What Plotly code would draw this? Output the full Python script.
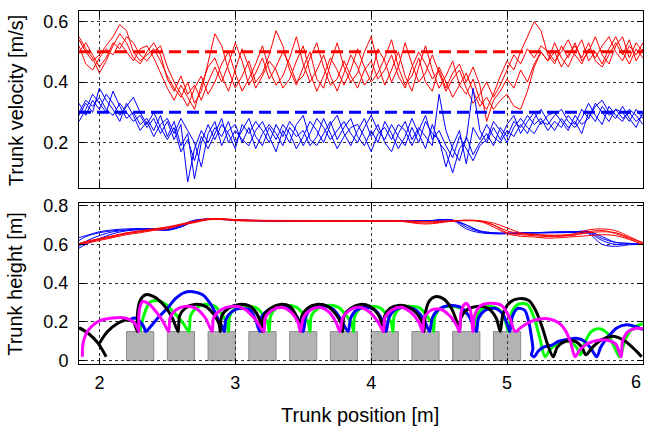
import plotly.graph_objects as go

# ---------------- data ----------------
vel_x = [1.85, 1.90, 1.95, 2.00, 2.05, 2.10, 2.15, 2.20, 2.25, 2.30,
         2.35, 2.40, 2.45, 2.50, 2.55, 2.60, 2.65, 2.70, 2.75, 2.80,
         2.85, 2.90, 2.95, 3.00, 3.05, 3.10, 3.15, 3.20, 3.25, 3.30,
         3.35, 3.40, 3.45, 3.50, 3.55, 3.60, 3.65, 3.70, 3.75, 3.80,
         3.85, 3.90, 3.95, 4.00, 4.05, 4.10, 4.15, 4.20, 4.25, 4.30,
         4.35, 4.40, 4.45, 4.50, 4.55, 4.60, 4.65, 4.70, 4.75, 4.80,
         4.85, 4.90, 4.95, 5.00, 5.05, 5.10, 5.15, 5.20, 5.25, 5.30,
         5.35, 5.40, 5.45, 5.50, 5.55, 5.60, 5.65, 5.70, 5.75, 5.80,
         5.85, 5.90, 5.95, 6.00]

vel_red_1 = [0.54, 0.50, 0.47, 0.49, 0.52, 0.55, 0.59, 0.57, 0.50, 0.47,
             0.49, 0.51, 0.47, 0.42, 0.38, 0.35, 0.40, 0.33, 0.37, 0.46,
             0.56, 0.52, 0.44, 0.38, 0.42, 0.47, 0.40, 0.43, 0.49, 0.57,
             0.52, 0.44, 0.39, 0.45, 0.50, 0.41, 0.38, 0.46, 0.53, 0.45,
             0.40, 0.43, 0.50, 0.55, 0.46, 0.39, 0.44, 0.50, 0.42, 0.37,
             0.45, 0.52, 0.44, 0.38, 0.42, 0.47, 0.39, 0.36, 0.41, 0.34,
             0.31, 0.36, 0.42, 0.47, 0.44, 0.50, 0.55, 0.60, 0.57, 0.49,
             0.46, 0.52, 0.48, 0.53, 0.47, 0.50, 0.55, 0.49, 0.46, 0.52,
             0.55, 0.48, 0.53, 0.50]
vel_red_2 = [0.50, 0.53, 0.49, 0.45, 0.48, 0.53, 0.51, 0.55, 0.53, 0.49,
             0.47, 0.50, 0.52, 0.45, 0.40, 0.36, 0.32, 0.38, 0.42, 0.36,
             0.40, 0.46, 0.50, 0.43, 0.37, 0.41, 0.46, 0.52, 0.44, 0.39,
             0.42, 0.48, 0.55, 0.46, 0.40, 0.44, 0.49, 0.42, 0.37, 0.43,
             0.49, 0.45, 0.39, 0.42, 0.51, 0.47, 0.40, 0.45, 0.53, 0.46,
             0.40, 0.43, 0.49, 0.43, 0.37, 0.41, 0.44, 0.38, 0.33, 0.36,
             0.40, 0.35, 0.39, 0.44, 0.49, 0.46, 0.51, 0.48, 0.52, 0.50,
             0.47, 0.50, 0.54, 0.49, 0.46, 0.51, 0.48, 0.52, 0.55, 0.50,
             0.47, 0.52, 0.49, 0.53]
vel_red_3 = [0.52, 0.46, 0.44, 0.48, 0.51, 0.49, 0.53, 0.50, 0.47, 0.51,
             0.52, 0.48, 0.43, 0.38, 0.34, 0.39, 0.35, 0.31, 0.39, 0.45,
             0.48, 0.42, 0.37, 0.44, 0.51, 0.45, 0.38, 0.42, 0.47, 0.44,
             0.38, 0.41, 0.47, 0.52, 0.43, 0.37, 0.42, 0.48, 0.44, 0.39,
             0.44, 0.51, 0.45, 0.40, 0.43, 0.48, 0.54, 0.45, 0.39, 0.42,
             0.48, 0.40, 0.37, 0.45, 0.40, 0.35, 0.39, 0.43, 0.37, 0.32,
             0.35, 0.31, 0.34, 0.36, 0.32, 0.31, 0.37, 0.45, 0.50, 0.47,
             0.53, 0.48, 0.45, 0.50, 0.54, 0.47, 0.50, 0.46, 0.51, 0.55,
             0.50, 0.46, 0.51, 0.48]
vel_red_4 = [0.55, 0.51, 0.48, 0.43, 0.47, 0.52, 0.56, 0.53, 0.48, 0.46,
             0.50, 0.53, 0.49, 0.41, 0.37, 0.42, 0.36, 0.39, 0.34, 0.40,
             0.45, 0.40, 0.46, 0.53, 0.47, 0.39, 0.43, 0.48, 0.41, 0.45,
             0.50, 0.46, 0.40, 0.42, 0.48, 0.53, 0.45, 0.39, 0.41, 0.47,
             0.42, 0.38, 0.44, 0.47, 0.41, 0.44, 0.49, 0.42, 0.38, 0.45,
             0.50, 0.46, 0.41, 0.44, 0.38, 0.43, 0.46, 0.40, 0.45, 0.39,
             0.27, 0.34, 0.37, 0.41, 0.38, 0.44, 0.40, 0.46, 0.50, 0.47,
             0.50, 0.45, 0.49, 0.52, 0.48, 0.53, 0.47, 0.45, 0.49, 0.53,
             0.49, 0.54, 0.47, 0.51]

vel_blue_1 = [0.30, 0.34, 0.32, 0.35, 0.31, 0.29, 0.33, 0.30, 0.27, 0.29,
              0.25, 0.28, 0.23, 0.27, 0.21, 0.26, 0.07, 0.18, 0.24, 0.20,
              0.25, 0.22, 0.27, 0.20, 0.24, 0.28, 0.22, 0.19, 0.25, 0.21,
              0.26, 0.23, 0.18, 0.22, 0.27, 0.24, 0.20, 0.26, 0.29, 0.23,
              0.19, 0.24, 0.28, 0.22, 0.26, 0.20, 0.17, 0.23, 0.27, 0.21,
              0.25, 0.22, 0.19, 0.36, 0.24, 0.18, 0.14, 0.22, 0.16, 0.20,
              0.23, 0.19, 0.25, 0.22, 0.27, 0.25, 0.29, 0.26, 0.28, 0.24,
              0.27, 0.25, 0.29, 0.26, 0.31, 0.28, 0.33, 0.30, 0.27, 0.31,
              0.28, 0.30, 0.27, 0.29]
vel_blue_2 = [0.27, 0.31, 0.36, 0.33, 0.30, 0.37, 0.32, 0.28, 0.30, 0.26,
              0.28, 0.24, 0.29, 0.22, 0.27, 0.19, 0.23, 0.08, 0.20, 0.26,
              0.21, 0.26, 0.23, 0.18, 0.26, 0.23, 0.27, 0.24, 0.20, 0.26,
              0.22, 0.27, 0.24, 0.19, 0.23, 0.28, 0.25, 0.21, 0.24, 0.27,
              0.23, 0.20, 0.25, 0.29, 0.24, 0.21, 0.26, 0.22, 0.19, 0.25,
              0.20, 0.27, 0.23, 0.21, 0.12, 0.19, 0.24, 0.13, 0.25, 0.21,
              0.26, 0.22, 0.20, 0.24, 0.22, 0.26, 0.23, 0.28, 0.31, 0.27,
              0.24, 0.28, 0.25, 0.27, 0.23, 0.30, 0.27, 0.32, 0.29, 0.31,
              0.30, 0.27, 0.31, 0.28]
vel_blue_3 = [0.33, 0.29, 0.34, 0.31, 0.36, 0.33, 0.29, 0.32, 0.35, 0.30,
              0.26, 0.30, 0.25, 0.21, 0.25, 0.17, 0.21, 0.14, 0.22, 0.18,
              0.23, 0.28, 0.20, 0.24, 0.21, 0.19, 0.24, 0.27, 0.22, 0.17,
              0.24, 0.20, 0.26, 0.29, 0.21, 0.19, 0.23, 0.27, 0.21, 0.25,
              0.28, 0.22, 0.19, 0.24, 0.20, 0.27, 0.23, 0.18, 0.22, 0.28,
              0.23, 0.18, 0.26, 0.20, 0.17, 0.10, 0.18, 0.21, 0.38, 0.24,
              0.20, 0.25, 0.21, 0.26, 0.29, 0.23, 0.27, 0.30, 0.26, 0.29,
              0.30, 0.27, 0.24, 0.29, 0.26, 0.28, 0.32, 0.34, 0.30, 0.28,
              0.32, 0.28, 0.25, 0.30]
vel_blue_4 = [0.29, 0.33, 0.30, 0.38, 0.34, 0.31, 0.27, 0.33, 0.29, 0.24,
              0.27, 0.22, 0.26, 0.28, 0.23, 0.28, 0.24, 0.20, 0.12, 0.23,
              0.27, 0.19, 0.24, 0.26, 0.20, 0.25, 0.18, 0.23, 0.26, 0.23,
              0.19, 0.25, 0.22, 0.24, 0.19, 0.22, 0.28, 0.23, 0.18, 0.22,
              0.25, 0.26, 0.22, 0.17, 0.23, 0.25, 0.21, 0.26, 0.24, 0.19,
              0.24, 0.29, 0.21, 0.24, 0.19, 0.15, 0.22, 0.18, 0.14, 0.19,
              0.21, 0.27, 0.24, 0.20, 0.25, 0.28, 0.25, 0.23, 0.27, 0.26,
              0.29, 0.31, 0.27, 0.25, 0.28, 0.33, 0.29, 0.26, 0.32, 0.29,
              0.27, 0.31, 0.29, 0.26]

target_vel_red = 0.5
target_vel_blue = 0.3

height_x = [1.85, 1.90, 2.00, 2.10, 2.20, 2.30, 2.40, 2.50, 2.60, 2.70,
            2.80, 2.90, 3.00, 3.20, 3.40, 3.60, 3.80, 4.00, 4.20, 4.40,
            4.60, 4.70, 4.80, 4.90, 5.00, 5.10, 5.20, 5.30, 5.40, 5.50,
            5.60, 5.70, 5.80, 5.90, 6.00]
height_red_1 = [0.600, 0.610, 0.625, 0.640, 0.655, 0.665, 0.675, 0.685, 0.700, 0.715,
                0.730, 0.730, 0.725, 0.722, 0.722, 0.722, 0.720, 0.720, 0.722, 0.718,
                0.722, 0.724, 0.720, 0.700, 0.670, 0.655, 0.650, 0.645, 0.645, 0.650,
                0.660, 0.665, 0.660, 0.635, 0.610]
height_red_2 = [0.605, 0.615, 0.630, 0.645, 0.660, 0.670, 0.680, 0.690, 0.705, 0.720,
                0.732, 0.733, 0.728, 0.724, 0.723, 0.721, 0.720, 0.722, 0.720, 0.705,
                0.720, 0.725, 0.722, 0.710, 0.685, 0.660, 0.652, 0.648, 0.648, 0.655,
                0.675, 0.680, 0.670, 0.640, 0.605]
height_red_3 = [0.598, 0.605, 0.620, 0.635, 0.650, 0.660, 0.672, 0.680, 0.700, 0.712,
                0.727, 0.728, 0.722, 0.720, 0.720, 0.720, 0.718, 0.720, 0.720, 0.710,
                0.720, 0.722, 0.718, 0.690, 0.655, 0.642, 0.638, 0.632, 0.635, 0.640,
                0.645, 0.650, 0.645, 0.625, 0.600]
height_red_4 = [0.602, 0.612, 0.628, 0.642, 0.658, 0.668, 0.678, 0.688, 0.700, 0.716,
                0.730, 0.730, 0.726, 0.723, 0.721, 0.720, 0.721, 0.720, 0.720, 0.716,
                0.720, 0.723, 0.720, 0.700, 0.660, 0.650, 0.645, 0.640, 0.642, 0.648,
                0.665, 0.672, 0.655, 0.630, 0.598]
height_blue_1 = [0.580, 0.600, 0.630, 0.655, 0.670, 0.675, 0.675, 0.675, 0.690, 0.720,
                 0.730, 0.730, 0.725, 0.722, 0.722, 0.722, 0.720, 0.722, 0.720, 0.722,
                 0.724, 0.700, 0.670, 0.660, 0.658, 0.660, 0.660, 0.662, 0.665, 0.665,
                 0.665, 0.630, 0.610, 0.605, 0.600]
height_blue_2 = [0.620, 0.640, 0.660, 0.670, 0.675, 0.680, 0.680, 0.675, 0.695, 0.722,
                 0.732, 0.730, 0.727, 0.723, 0.720, 0.723, 0.720, 0.720, 0.721, 0.720,
                 0.726, 0.690, 0.665, 0.655, 0.655, 0.657, 0.658, 0.660, 0.660, 0.662,
                 0.660, 0.620, 0.600, 0.603, 0.600]
height_blue_3 = [0.590, 0.615, 0.645, 0.665, 0.672, 0.678, 0.678, 0.672, 0.690, 0.718,
                 0.728, 0.728, 0.724, 0.720, 0.720, 0.720, 0.720, 0.720, 0.720, 0.720,
                 0.722, 0.680, 0.660, 0.655, 0.656, 0.658, 0.660, 0.660, 0.662, 0.660,
                 0.655, 0.600, 0.590, 0.598, 0.600]
height_blue_4 = [0.635, 0.645, 0.665, 0.675, 0.680, 0.682, 0.680, 0.678, 0.700, 0.725,
                 0.730, 0.730, 0.726, 0.722, 0.721, 0.722, 0.720, 0.721, 0.720, 0.722,
                 0.725, 0.700, 0.668, 0.660, 0.657, 0.660, 0.660, 0.663, 0.664, 0.666,
                 0.667, 0.640, 0.610, 0.605, 0.600]

obstacle_x0 = [2.2, 2.5, 2.8, 3.1, 3.4, 3.7, 4.0, 4.3, 4.6, 4.9]
obstacle_x1 = [2.4, 2.7, 3.0, 3.3, 3.6, 3.9, 4.2, 4.5, 4.8, 5.1]
obstacle_top = 0.15

foot_black_x = [1.85, 1.92, 1.99, 2.05, None,
                2.00, 2.06, 2.13, 2.20, 2.25, 2.28,
                2.28, 2.30, 2.34, 2.40, 2.47, 2.53, 2.56, 2.58,
                2.59, 2.63, 2.70, 2.78, 2.84, 2.88, 2.89,
                2.90, 2.95, 3.03, 3.11, 3.16, 3.19, 3.20,
                3.21, 3.26, 3.33, 3.40, 3.45, 3.47, 3.48,
                3.49, 3.53, 3.60, 3.68, 3.74, 3.78, 3.79,
                3.80, 3.85, 3.92, 3.99, 4.05, 4.08, 4.09,
                4.10, 4.14, 4.20, 4.28, 4.34, 4.38, 4.39,
                4.40, 4.43, 4.47, 4.53, 4.59, 4.63, 4.65,
                4.66, 4.70, 4.78, 4.86, 4.92, 4.95,
                4.97, 5.02, 5.09, 5.16, 5.21, 5.26, 5.30, 5.34,
                5.37, 5.43, 5.50, 5.55, 5.58,
                5.63, 5.70, 5.79, 5.87, 5.95, 5.99]
foot_black_y = [0.17, 0.14, 0.09, 0.02, None,
                0.09, 0.15, 0.19, 0.21, 0.20, 0.15,
                0.24, 0.31, 0.34, 0.33, 0.29, 0.23, 0.18, 0.15,
                0.23, 0.27, 0.29, 0.28, 0.24, 0.19, 0.15,
                0.23, 0.27, 0.29, 0.28, 0.24, 0.19, 0.15,
                0.23, 0.27, 0.29, 0.28, 0.23, 0.19, 0.15,
                0.23, 0.27, 0.29, 0.28, 0.24, 0.19, 0.15,
                0.23, 0.27, 0.29, 0.28, 0.24, 0.19, 0.15,
                0.23, 0.27, 0.285, 0.275, 0.24, 0.19, 0.15,
                0.25, 0.31, 0.33, 0.32, 0.27, 0.20, 0.15,
                0.22, 0.26, 0.28, 0.27, 0.22, 0.15,
                0.24, 0.30, 0.32, 0.31, 0.26, 0.17, 0.08, 0.02,
                0.07, 0.10, 0.10, 0.07, 0.03,
                0.07, 0.11, 0.125, 0.10, 0.05, 0.02]

foot_green_x = [2.30, 2.33, 2.37, 2.42, 2.49, 2.56, 2.62, 2.66,
                2.67, 2.71, 2.77, 2.85, 2.91, 2.94, 2.95,
                2.96, 3.00, 3.08, 3.16, 3.21, 3.24, 3.25,
                3.26, 3.30, 3.37, 3.45, 3.50, 3.54, 3.55,
                3.56, 3.61, 3.68, 3.76, 3.82, 3.86, 3.87,
                3.88, 3.92, 3.99, 4.07, 4.12, 4.15, 4.16,
                4.17, 4.21, 4.28, 4.36, 4.41, 4.45, 4.46,
                4.47, 4.51, 4.58, 4.66, 4.72, 4.76, 4.77,
                4.78, 4.82, 4.88, 4.95, 4.99, 5.01,
                5.03, 5.08, 5.15, 5.20, 5.24, 5.28,
                5.32, 5.38, 5.45, 5.51, 5.54,
                5.57, 5.62, 5.68, 5.74, 5.79, 5.83,
                5.87, 5.93, 6.00]
foot_green_y = [0.15, 0.24, 0.30, 0.31, 0.29, 0.24, 0.19, 0.15,
                0.23, 0.27, 0.29, 0.28, 0.23, 0.19, 0.15,
                0.23, 0.27, 0.28, 0.27, 0.23, 0.19, 0.15,
                0.23, 0.27, 0.285, 0.275, 0.24, 0.19, 0.15,
                0.23, 0.27, 0.285, 0.275, 0.23, 0.19, 0.15,
                0.23, 0.27, 0.28, 0.27, 0.23, 0.19, 0.15,
                0.23, 0.27, 0.28, 0.27, 0.23, 0.19, 0.15,
                0.23, 0.27, 0.28, 0.27, 0.23, 0.19, 0.15,
                0.23, 0.27, 0.28, 0.26, 0.20, 0.15,
                0.24, 0.29, 0.29, 0.22, 0.12, 0.02,
                0.06, 0.09, 0.10, 0.07, 0.03,
                0.09, 0.15, 0.165, 0.14, 0.07, 0.02,
                0.11, 0.17, 0.19]

foot_blue_x = [2.22, 2.26, 2.30, 2.33, 2.34,
               2.37, 2.43, 2.50, 2.56, 2.62, 2.69, 2.76, 2.82, 2.87, 2.90, 2.92,
               2.93, 2.97, 3.04, 3.11, 3.15, 3.18,
               3.19, 3.24, 3.32, 3.40, 3.46, 3.50,
               3.52, 3.56, 3.64, 3.72, 3.78, 3.83,
               3.85, 3.89, 3.96, 4.03, 4.08, 4.11,
               4.13, 4.17, 4.25, 4.33, 4.39, 4.43,
               4.45, 4.49, 4.57, 4.66, 4.72, 4.775,
               4.79, 4.84, 4.91, 4.97, 5.00, 5.02,
               5.04, 5.08, 5.13, 5.16, 5.18, 5.19, 5.18, 5.20, 5.23,
               5.27, 5.33, 5.38, 5.45, 5.51, 5.57, 5.62, 5.66,
               5.69, 5.74, 5.81, 5.88, 5.95, 6.00]
foot_blue_y = [0.21, 0.22, 0.20, 0.17, 0.15,
               0.17, 0.22, 0.27, 0.32, 0.35, 0.356, 0.34, 0.29, 0.22, 0.18, 0.15,
               0.21, 0.25, 0.27, 0.26, 0.21, 0.15,
               0.22, 0.26, 0.275, 0.265, 0.22, 0.15,
               0.23, 0.27, 0.285, 0.265, 0.21, 0.15,
               0.22, 0.26, 0.275, 0.26, 0.21, 0.15,
               0.22, 0.26, 0.275, 0.26, 0.21, 0.15,
               0.22, 0.26, 0.285, 0.275, 0.23, 0.15,
               0.22, 0.26, 0.27, 0.24, 0.19, 0.15,
               0.23, 0.27, 0.26, 0.20, 0.12, 0.06, 0.03, 0.02, 0.05,
               0.07, 0.08, 0.10, 0.11, 0.115, 0.10, 0.06, 0.02,
               0.07, 0.12, 0.17, 0.185, 0.175, 0.16]

foot_magenta_x = [1.875, 1.878, 1.90, 1.94, 2.00, 2.10, 2.19, 2.25, 2.28, 2.29,
                  2.29, 2.30, 2.32, 2.37, 2.42, 2.47, 2.51,
                  2.52, 2.56, 2.63, 2.71, 2.78, 2.83,
                  2.84, 2.89, 2.97, 3.06, 3.14, 3.21,
                  3.22, 3.27, 3.34, 3.41, 3.46, 3.48,
                  3.50, 3.55, 3.62, 3.69, 3.74, 3.77,
                  3.79, 3.84, 3.91, 3.99, 4.05, 4.09,
                  4.10, 4.15, 4.22, 4.29, 4.35, 4.38,
                  4.39, 4.44, 4.51, 4.58, 4.63, 4.65,
                  4.66, 4.68, 4.70, 4.73, 4.75,
                  4.76, 4.80, 4.87, 4.96, 5.02, 5.06,
                  5.10, 5.17, 5.24, 5.31, 5.38, 5.43, 5.47, 5.50,
                  5.54, 5.60, 5.67, 5.74, 5.80, 5.84,
                  5.85, 5.89, 5.95, 6.00]
foot_magenta_y = [0.02, 0.08, 0.135, 0.175, 0.205, 0.22, 0.22, 0.20, 0.17, 0.15,
                  0.23, 0.28, 0.305, 0.29, 0.25, 0.20, 0.15,
                  0.22, 0.26, 0.28, 0.27, 0.22, 0.15,
                  0.22, 0.26, 0.28, 0.27, 0.22, 0.15,
                  0.22, 0.26, 0.275, 0.25, 0.20, 0.15,
                  0.22, 0.26, 0.275, 0.25, 0.20, 0.15,
                  0.22, 0.26, 0.275, 0.25, 0.20, 0.15,
                  0.22, 0.26, 0.275, 0.25, 0.20, 0.15,
                  0.22, 0.26, 0.265, 0.23, 0.18, 0.15,
                  0.24, 0.285, 0.296, 0.26, 0.15,
                  0.23, 0.28, 0.296, 0.285, 0.22, 0.15,
                  0.17, 0.20, 0.215, 0.215, 0.195, 0.155, 0.09, 0.02,
                  0.06, 0.09, 0.105, 0.105, 0.085, 0.02,
                  0.10, 0.15, 0.167, 0.165]

x_ticks = [2, 3, 4, 5, 6]
x_tick_labels = ["2", "3", "4", "5", "6"]
vel_ticks = [0.2, 0.4, 0.6]
height_ticks = [0, 0.2, 0.4, 0.6, 0.8]

# ---------------- figure ----------------
RED = "#ff0000"
BLUE = "#0000ff"
FONT = "Liberation Sans, Arial, sans-serif"

fig = go.Figure()

for ys in [vel_red_1, vel_red_2, vel_red_3, vel_red_4]:
    fig.add_trace(go.Scatter(x=vel_x, y=ys, mode="lines", xaxis="x", yaxis="y",
                             line=dict(color=RED, width=1), showlegend=False))
for ys in [vel_blue_1, vel_blue_2, vel_blue_3, vel_blue_4]:
    fig.add_trace(go.Scatter(x=vel_x, y=ys, mode="lines", xaxis="x", yaxis="y",
                             line=dict(color=BLUE, width=1), showlegend=False))

x_span = [vel_x[0], vel_x[-1]]
fig.add_trace(go.Scatter(x=x_span, y=[target_vel_red] * 2, mode="lines", xaxis="x", yaxis="y",
                         line=dict(color=RED, width=3, dash="12px,6px"), showlegend=False))
fig.add_trace(go.Scatter(x=x_span, y=[target_vel_blue] * 2, mode="lines", xaxis="x", yaxis="y",
                         line=dict(color=BLUE, width=3, dash="12px,6px"), showlegend=False))

for ys in [height_blue_1, height_blue_2, height_blue_3, height_blue_4]:
    fig.add_trace(go.Scatter(x=height_x, y=ys, mode="lines", xaxis="x2", yaxis="y2",
                             line=dict(color=BLUE, width=1, shape="spline"), showlegend=False))
for ys in [height_red_1, height_red_2, height_red_3, height_red_4]:
    fig.add_trace(go.Scatter(x=height_x, y=ys, mode="lines", xaxis="x2", yaxis="y2",
                             line=dict(color=RED, width=1, shape="spline"), showlegend=False))

for fx, fy, col in [(foot_green_x, foot_green_y, "#00ff00"),
                    (foot_blue_x, foot_blue_y, BLUE),
                    (foot_black_x, foot_black_y, "#000000"),
                    (foot_magenta_x, foot_magenta_y, "#ff00ff")]:
    fig.add_trace(go.Scatter(x=fx, y=fy, mode="lines", xaxis="x2", yaxis="y2",
                             line=dict(color=col, width=3, shape="spline", smoothing=0.8),
                             showlegend=False))

for x0, x1 in zip(obstacle_x0, obstacle_x1):
    fig.add_shape(type="rect", xref="x2", yref="y2", x0=x0, x1=x1, y0=0, y1=obstacle_top,
                  fillcolor="#b3b3b3", line=dict(color="#8c8c8c", width=1), layer="below")

axis_common = dict(showline=True, linecolor="black", linewidth=1, mirror="ticks",
                   ticks="inside", ticklen=6, tickcolor="black",
                   showgrid=True, gridcolor="#333333", griddash="dot", gridwidth=1,
                   zeroline=False, automargin=False, ticklabeloverflow="allow",
                   tickfont=dict(family=FONT, size=18, color="black"))

X_RANGE = [1.85, 6.0005]

# the last x tick label sits at the right edge of the page: draw it right-aligned
# on its tick so it stays fully inside the picture
x_ticktext = x_tick_labels[:-1] + [""]
edge_label = dict(text=x_tick_labels[-1], xref="x2", yref="paper", x=x_ticks[-1], y=0.1075,
                  xanchor="right", yanchor="middle", showarrow=False,
                  font=dict(family=FONT, size=18, color="black"))

fig.update_layout(
    width=645, height=428,
    margin=dict(l=79, r=2, t=0, b=0, autoexpand=False),
    paper_bgcolor="white", plot_bgcolor="white",
    font=dict(family=FONT, size=18, color="black"),
    xaxis=dict(domain=[0, 1], anchor="y", range=X_RANGE, tickvals=x_ticks,
               showticklabels=False, **axis_common),
    yaxis=dict(domain=[0.5607, 0.9743], anchor="x", range=[0.05, 0.635], tickvals=vel_ticks,
               ticktext=["%.1f" % v for v in vel_ticks], ticklabelstandoff=6, **axis_common),
    xaxis2=dict(domain=[0, 1], anchor="y2", range=X_RANGE, tickvals=x_ticks,
                ticktext=x_ticktext, ticklabelstandoff=2, **axis_common),
    yaxis2=dict(domain=[0.1488, 0.5264], anchor="x2", range=[-0.019, 0.815], tickvals=height_ticks,
                ticktext=["0" if v == 0 else "%.1f" % v for v in height_ticks],
                ticklabelstandoff=6, **axis_common),
    annotations=[
        dict(text="Trunk velocity [m/s]", xref="paper", yref="paper", x=-0.1126, y=0.767,
             xanchor="center", yanchor="middle", textangle=-90, showarrow=False,
             font=dict(family=FONT, size=20)),
        dict(text="Trunk height [m]", xref="paper", yref="paper", x=-0.1126, y=0.338,
             xanchor="center", yanchor="middle", textangle=-90, showarrow=False,
             font=dict(family=FONT, size=20)),
        dict(text="Trunk position [m]", xref="paper", yref="paper", x=0.498, y=0.031,
             xanchor="center", yanchor="middle", showarrow=False,
             font=dict(family=FONT, size=20)),
        edge_label,
    ],
)

fig.write_html("out.html", config={"displayModeBar": False},
               post_script="document.body.style.margin='0';document.body.style.overflow='hidden';")
